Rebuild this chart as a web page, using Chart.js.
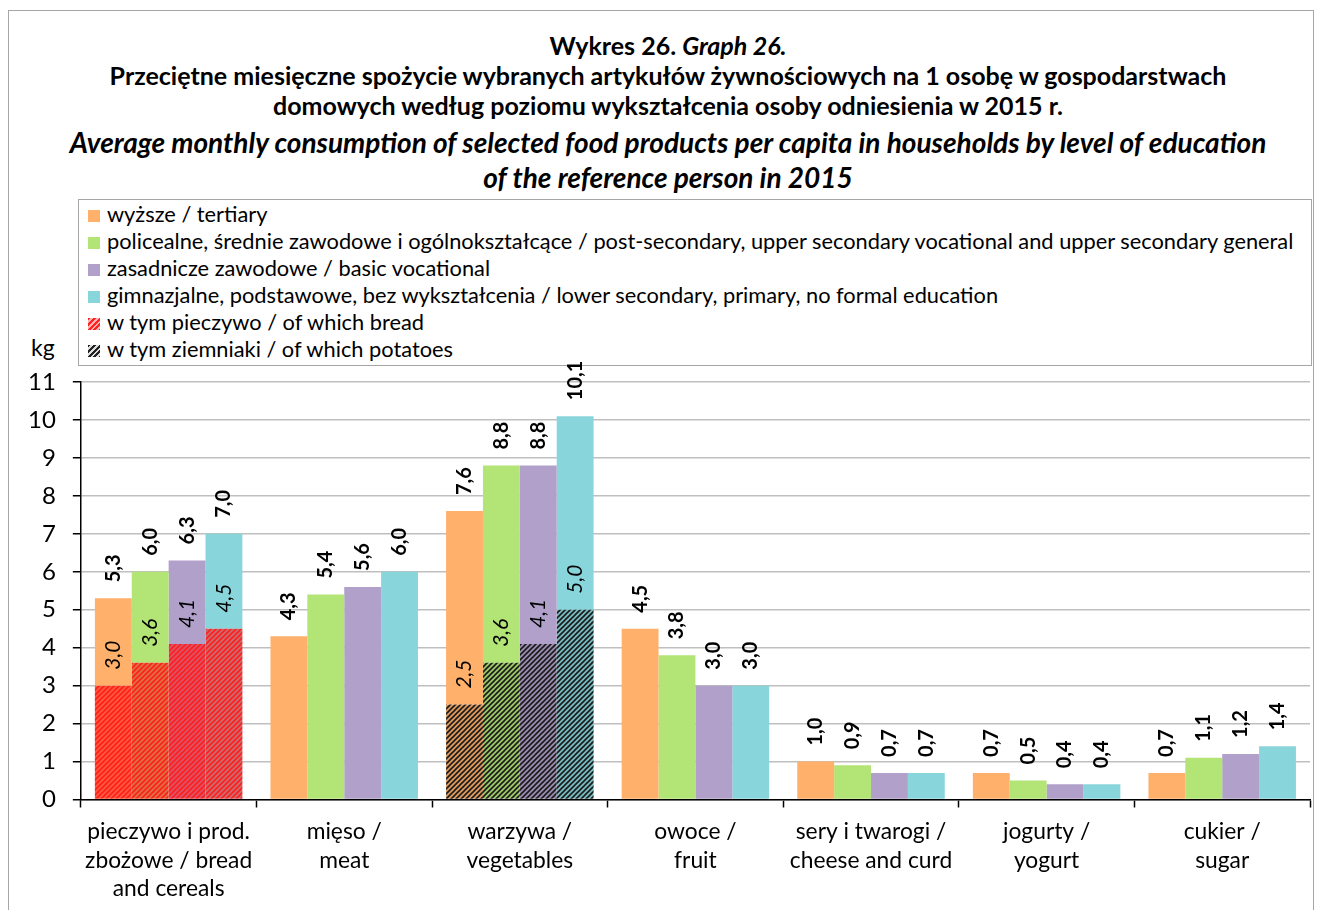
<!DOCTYPE html>
<html>
<head>
<meta charset="utf-8">
<script src="https://cdn.jsdelivr.net/npm/chart.js@4.4.1/dist/chart.umd.min.js"></script>
<style>
  body { margin: 0; background: #fff; font-family: Lato, 'Open Sans', sans-serif; color: #000; }
  #wrap { position: relative; width: 1323px; height: 910px; overflow: hidden; }
  #frame { position: absolute; left: 8px; top: 10px; width: 1306px; height: 920px; border: 1.5px solid #a6a6a6; box-sizing: border-box; }
  #chart { position: absolute; left: 0; top: 0; }
  .tl { position: absolute; left: 0; width: 1336px; text-align: center; white-space: nowrap; font-weight: bold; font-size: 25px; line-height: 30px; }
  .tl.en { font-style: italic; font-size: 28px; line-height: 34px; }
  #legend { position: absolute; left: 78px; top: 199px; width: 1234px; height: 167px; border: 1.5px solid #a6a6a6; box-sizing: border-box; padding-top: 0; }
  .li { height: 27px; line-height: 27px; font-size: 21.8px; white-space: nowrap; padding-left: 9px; }
  .sw { display: inline-block; width: 12px; height: 12px; margin-right: 7px; vertical-align: 0; }
  #kg { position: absolute; left: 31px; top: 333px; font-size: 23px; }
</style>
</head>
<body>
<div id="wrap">
  <div id="frame"></div>
  <div class="tl" style="top:30px">Wykres 26. <i>Graph 26.</i></div>
  <div class="tl" style="top:60px">Przeciętne miesięczne spożycie wybranych artykułów żywnościowych na 1 osobę w gospodarstwach</div>
  <div class="tl" style="top:90px">domowych według poziomu wykształcenia osoby odniesienia w 2015 r.</div>
  <div class="tl en" style="top:125px">Average monthly consumption of selected food products per capita in households by level of education</div>
  <div class="tl en" style="top:160px">of the reference person in 2015</div>
  <div id="legend"></div>
  <div id="kg">kg</div>
  <canvas id="chart" width="1323" height="910"></canvas>
</div>
<script>
// ---- data ----
const categories = [
  ['pieczywo i prod.', 'zbożowe / bread', 'and cereals'],
  ['mięso /', 'meat'],
  ['warzywa /', 'vegetables'],
  ['owoce /', 'fruit'],
  ['sery i twarogi /', 'cheese and curd'],
  ['jogurty /', 'yogurt'],
  ['cukier /', 'sugar']
];
const seriesNames = [
  'wyższe / tertiary',
  'policealne, średnie zawodowe i ogólnokształcące / post-secondary, upper secondary vocational and upper secondary general',
  'zasadnicze zawodowe / basic vocational',
  'gimnazjalne, podstawowe, bez wykształcenia / lower secondary, primary, no formal education'
];
const tertiary   = [5.3, 4.3, 7.6, 4.5, 1.0, 0.7, 0.7];
const postSec    = [6.0, 5.4, 8.8, 3.8, 0.9, 0.5, 1.1];
const basicVoc   = [6.3, 5.6, 8.8, 3.0, 0.7, 0.4, 1.2];
const lowerPrim  = [7.0, 6.0, 10.1, 3.0, 0.7, 0.4, 1.4];
const bread      = [3.0, 3.6, 4.1, 4.5];   // of which bread, in cat 0
const potatoes   = [2.5, 3.6, 4.1, 5.0];   // of which potatoes, in cat 2
const breadLabel = 'w tym pieczywo / of which bread';
const potatoLabel = 'w tym ziemniaki / of which potatoes';

const totals = [tertiary, postSec, basicVoc, lowerPrim];
const colors = ['#ffb06a', '#b2e476', '#b1a0ca', '#88d6dc'];
const FONT = 'Lato, "Open Sans", sans-serif';

// hatch pattern: base colour + tint + diagonal stripes
function hatch(base, tint, stripe) {
  const c = document.createElement('canvas');
  c.width = 5; c.height = 5;
  const x = c.getContext('2d');
  x.fillStyle = base; x.fillRect(0, 0, 5, 5);
  x.fillStyle = tint; x.fillRect(0, 0, 5, 5);
  x.strokeStyle = stripe; x.lineWidth = 1.6;
  x.beginPath();
  x.moveTo(-1, 6); x.lineTo(6, -1);
  x.moveTo(-1, 1); x.lineTo(1, -1);
  x.moveTo(4, 6); x.lineTo(6, 4);
  x.stroke();
  return x.createPattern(c, 'repeat');
}

const fmt = v => v.toFixed(1).replace('.', ',');

const datasets = [];
totals.forEach((tot, i) => {
  const part = tot.map((v, j) => j === 0 ? bread[i] : j === 2 ? potatoes[i] : 0);
  const partBg = tot.map((v, j) => j === 0 ? hatch(colors[i], 'rgba(255,20,20,0.55)', '#ff1e1e')
                                  : hatch(colors[i], 'rgba(0,0,0,0.12)', '#1a1a1a'));
  datasets.push({ label: 'part' + i, data: part, stack: 's' + i, backgroundColor: partBg, borderWidth: 0, _part: true, _series: i });
  datasets.push({ label: seriesNames[i], data: tot.map((v, j) => +(v - part[j]).toFixed(2)), stack: 's' + i,
                  backgroundColor: colors[i], borderWidth: 0, _series: i });
});

// legend (html)
const lg = document.getElementById('legend');
seriesNames.forEach((n, i) => {
  lg.innerHTML += `<div class="li"><span class="sw" style="background:${colors[i]}"></span>${n}</div>`;
});
lg.innerHTML += `<div class="li"><span class="sw" style="background:repeating-linear-gradient(135deg,#ff2020 0 2px,#ffb0b0 2px 4px)"></span>${breadLabel}</div>`;
lg.innerHTML += `<div class="li"><span class="sw" style="background:repeating-linear-gradient(135deg,#222 0 2px,#ddd 2px 4px)"></span>${potatoLabel}</div>`;

// value labels
const labelPlugin = {
  id: 'vals',
  afterDatasetsDraw(chart) {
    const ctx = chart.ctx;
    ctx.save();
    ctx.fillStyle = '#000';
    chart.data.datasets.forEach((ds, di) => {
      const meta = chart.getDatasetMeta(di);
      meta.data.forEach((bar, j) => {
        let txt, font;
        if (ds._part) {
          if (!ds.data[j]) return;
          txt = fmt(ds.data[j]); font = 'italic 21px ' + FONT;
        } else {
          txt = fmt(totals[ds._series][j]); font = 'bold 20px ' + FONT;
        }
        ctx.save();
        ctx.font = font;
        ctx.translate(bar.x, bar.y - 16);
        ctx.rotate(-Math.PI / 2);
        ctx.textAlign = 'left';
        ctx.textBaseline = 'middle';
        ctx.fillText(txt, 0, 0);
        ctx.restore();
      });
    });
    ctx.restore();
  }
};

new Chart(document.getElementById('chart'), {
  type: 'bar',
  data: { labels: categories, datasets },
  options: {
    responsive: false,
    animation: false,
    layout: { padding: { left: 11, right: 13, top: 382, bottom: -3 } },
    plugins: { legend: { display: false }, tooltip: { enabled: false } },
    datasets: { bar: { barPercentage: 1, categoryPercentage: 0.84 } },
    scales: {
      x: {
        stacked: true,
        grid: { offset: true, drawOnChartArea: false, tickLength: 8, tickColor: '#000', tickWidth: 1.5 },
        border: { color: '#000', width: 1.5 },
        ticks: { color: '#000', font: { family: FONT, size: 22.8, lineHeight: 1.25 }, padding: 10, maxRotation: 0, autoSkip: false }
      },
      y: {
        stacked: true,
        min: 0, max: 11,
        grid: { color: '#bfbfbf', lineWidth: 1.5, tickLength: 8, tickColor: '#000' },
        border: { color: '#000', width: 1.5 },
        ticks: { stepSize: 1, color: '#000', font: { family: FONT, size: 24 }, padding: 17 }
      }
    }
  },
  plugins: [labelPlugin]
});
</script>
</body>
</html>
